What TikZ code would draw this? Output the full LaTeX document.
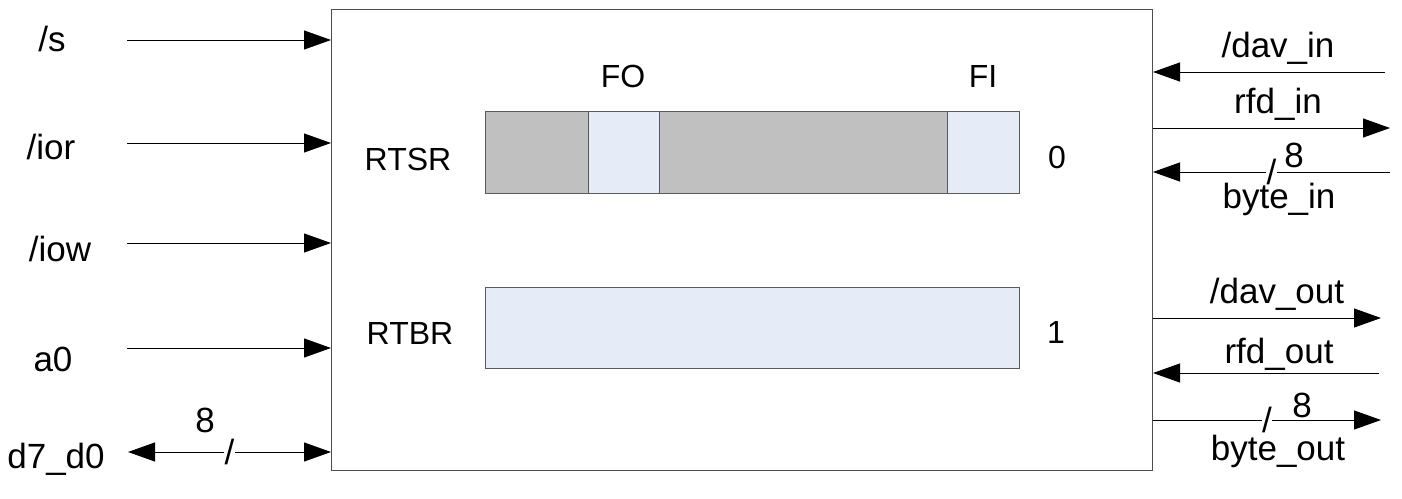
\documentclass[tikz,border=0pt]{standalone}
\usepackage{fontspec}
\setmainfont{Liberation Sans}
\usetikzlibrary{arrows.meta,positioning,calc}
\definecolor{regGray}{HTML}{C0C0C0}
\definecolor{regBlue}{HTML}{E6ECF7}

\begin{document}
\begin{tikzpicture}[
    x=0.5pt, y=-0.5pt,
    >={Triangle[length=13.5pt,width=9.5pt]},
    font=\fontsize{16}{19}\selectfont,
    every path/.style={line width=0.5pt},
    lbl/.style={anchor=base, inner sep=0pt},
    sig/.style={lbl, font=\fontsize{17.5}{20}\selectfont},
    bus/.style={fill=white, inner sep=0.3pt, font=\fontsize{17.5}{20}\selectfont},
    cell/.style={draw=black!65, inner sep=0pt, minimum height=41pt, anchor=north west},
  ]
  \useasboundingbox (0,0) rectangle (1402,498);
  \node[draw=black!70, minimum width=410.5pt, minimum height=230.7pt, anchor=north west] (ctl) at (331,9) {};

  % registers
  \node[cell, fill=regGray, minimum width=267pt] (rtsr) at (485,111) {};
  \node[cell, fill=regBlue, minimum width=35.5pt] (fo) at (588,111) {};
  \node[cell, fill=regBlue, minimum width=36pt, anchor=north east] (fi) at (rtsr.north east) {};
  \node[cell, fill=regBlue, minimum width=267pt, minimum height=40.5pt] (rtbr) at (485,287) {};
  \node[lbl] (fo-l) at (623,87) {FO};
  \node[lbl] (fi-l) at (983,87) {FI};
  \node[lbl] (rtsr-l) at (408,170) {RTSR};
  \node[lbl] (rtbr-l) at (410,344) {RTBR};
  \node[lbl] (rtsr-a) at (1057,168) {0};
  \node[lbl] (rtbr-a) at (1056,343) {1};

  % inputs on the left
  \node[sig] (s) at (52,51) {/s};
  \node[sig] (ior) at (51,159) {/ior};
  \node[sig] (iow) at (60,261) {/iow};
  \node[sig] (a0) at (53,371) {a0};
  \node[sig] (d) at (56,468) {d7\_d0};
  \coordinate (s-src) at (127,40);
  \coordinate (ior-src) at (127,143);
  \coordinate (iow-src) at (127,243);
  \coordinate (a0-src) at (127,348);
  \coordinate (d-src) at (128,452);
  \draw[->] (s-src) -- (s-src -| ctl.west);
  \draw[->] (ior-src) -- (ior-src -| ctl.west);
  \draw[->] (iow-src) -- (iow-src -| ctl.west);
  \draw[->] (a0-src) -- (a0-src -| ctl.west);
  \draw[<->] (d-src) -- node[bus] (d-bus) {/} (d-src -| ctl.west);
  \node[sig] (d-w) at (205,432) {8};

  % handshake on the right
  \coordinate (davin-src) at (1385,72);
  \coordinate (rfdin-dst) at (1390,128);
  \coordinate (bytein-src) at (1390,172);
  \coordinate (davout-dst) at (1381,318);
  \coordinate (rfdout-src) at (1379,373);
  \coordinate (byteout-dst) at (1381,420);
  \draw[->] (davin-src) -- (davin-src -| ctl.east);
  \draw[->] (rfdin-dst -| ctl.east) -- (rfdin-dst);
  \draw[->] (bytein-src) -- node[bus] (bytein-bus) {/} (bytein-src -| ctl.east);
  \draw[->] (davout-dst -| ctl.east) -- (davout-dst);
  \draw[->] (rfdout-src) -- (rfdout-src -| ctl.east);
  \draw[->] (byteout-dst -| ctl.east) -- node[bus] (byteout-bus) {/} (byteout-dst);
  \node[sig] (davin) at (1278,57) {/dav\_in};
  \node[sig] (rfdin) at (1278,113) {rfd\_in};
  \node[sig] (bytein-w) at (1294,167) {8};
  \node[sig] (bytein) at (1279,208) {byte\_in};
  \node[sig] (davout) at (1277,303) {/dav\_out};
  \node[sig] (rfdout) at (1279,363) {rfd\_out};
  \node[sig] (byteout-w) at (1302,417) {8};
  \node[sig] (byteout) at (1278,460) {byte\_out};
\end{tikzpicture}
\end{document}
